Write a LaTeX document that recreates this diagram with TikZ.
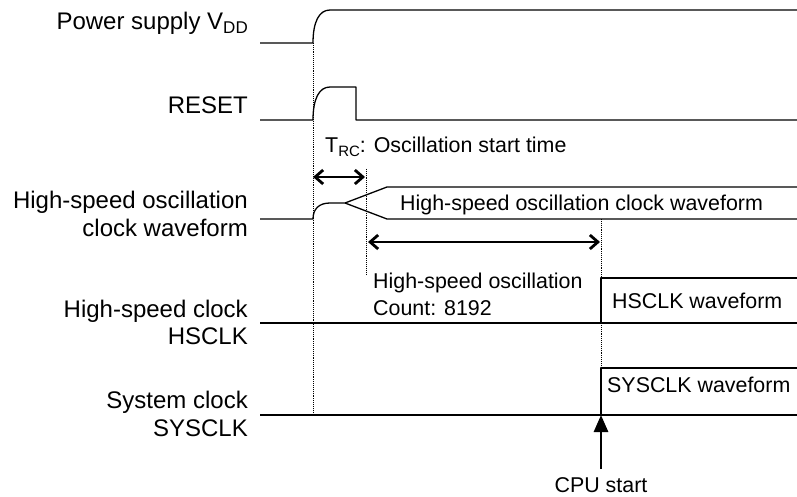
\documentclass[tikz,border=0pt]{standalone}
\usepackage{fontspec}
\setmainfont{Liberation Sans}
\usetikzlibrary{arrows.meta}
\newcommand\mysub[2]{\raisebox{-0.28ex}{\fontsize{#1}{#1}\selectfont #2}}
\begin{document}
\begin{tikzpicture}[x=1pt,y=-1pt,
  lbl/.style={font=\fontsize{24}{28}\selectfont, inner sep=0pt, anchor=base east},
  txt/.style={font=\fontsize{21.4}{25}\selectfont, inner sep=0pt, anchor=base west},
  wave/.style={line width=1.3pt, line join=round},
  guide/.style={line width=0.9pt, densely dotted},
  span/.style={line width=2.8pt, {Straight Barb[length=8pt,width=14pt]}-{Straight Barb[length=8pt,width=14pt]}},
  start/.style={line width=2.8pt, -{Triangle[length=17pt,width=14pt]}}]
\useasboundingbox (0,0) rectangle (797,497);

% left labels
\node[lbl] (lvdd) at (248,30) {Power supply V\mysub{17}{DD}};
\node[lbl] (lrst) at (248,114) {RESET};
\node[lbl] (losc1) at (248,208) {High-speed oscillation};
\node[lbl] (losc2) at (248,236) {clock waveform};
\node[lbl] (lhs1) at (248,317) {High-speed clock};
\node[lbl] (lhs2) at (248,344) {HSCLK};
\node[lbl] (lsys1) at (248,408) {System clock};
\node[lbl] (lsys2) at (248,436) {SYSCLK};

% waveforms
\draw[wave] (260,43) -- (313,43) .. controls (313,22) and (319,10) .. (330,10) -- (797,10);
\draw[wave] (260,120) -- (313,120) .. controls (313,99) and (319,87) .. (330,87) -- (356,87) -- (356,120) -- (797,120);
\draw[wave] (260,219) -- (313,219) .. controls (313,209) and (319,203) .. (330,203) -- (345,203) -- (387,187) -- (797,187);
\draw[wave] (345,203) -- (387,219) -- (797,219);
\draw[wave] (260,323) -- (797,323);
\draw[wave] (601,323) -- (601,278) -- (797,278);
\draw[wave] (260,415) -- (797,415);
\draw[wave] (601,415) -- (601,368) -- (797,368);

% guides
\coordinate (g1top) at (313,43);
\coordinate (g1bot) at (313,415);
\coordinate (g2top) at (366,169);
\coordinate (g2bot) at (366,275);
\draw[guide] (g1top) -- (g1bot);
\draw[guide] (g2top) -- (g2bot);
\draw[guide] (601,219) -- (601,278);
\draw[guide] (601,323) -- (601,368);

% texts on waveforms
\node[txt] (trc) at (325,153) {T\mysub{15}{RC}: Oscillation start time};
\node[txt] (oscw) at (400,210) {High-speed oscillation clock waveform};
\node[txt] (cnt1) at (373,288) {High-speed oscillation};
\node[txt] (cnt2) at (373,315) {Count: 8192};
\node[txt] (hsw) at (612,308) {HSCLK waveform};
\node[txt] (sysw) at (607,392) {SYSCLK waveform};

% spans
\coordinate (a1l) at (313,177);
\coordinate (a1r) at (365,177);
\coordinate (a2l) at (368,242);
\coordinate (a2r) at (600,242);
\draw[span] (a1l) -- (a1r);
\draw[span] (a2l) -- (a2r);

% CPU start
\node[txt, anchor=base, outer ysep=8pt] (cpu) at (601,492) {CPU start};
\coordinate (cputip) at (601,415);
\draw[start] (cpu.north) -- (cputip);
\end{tikzpicture}
\end{document}
